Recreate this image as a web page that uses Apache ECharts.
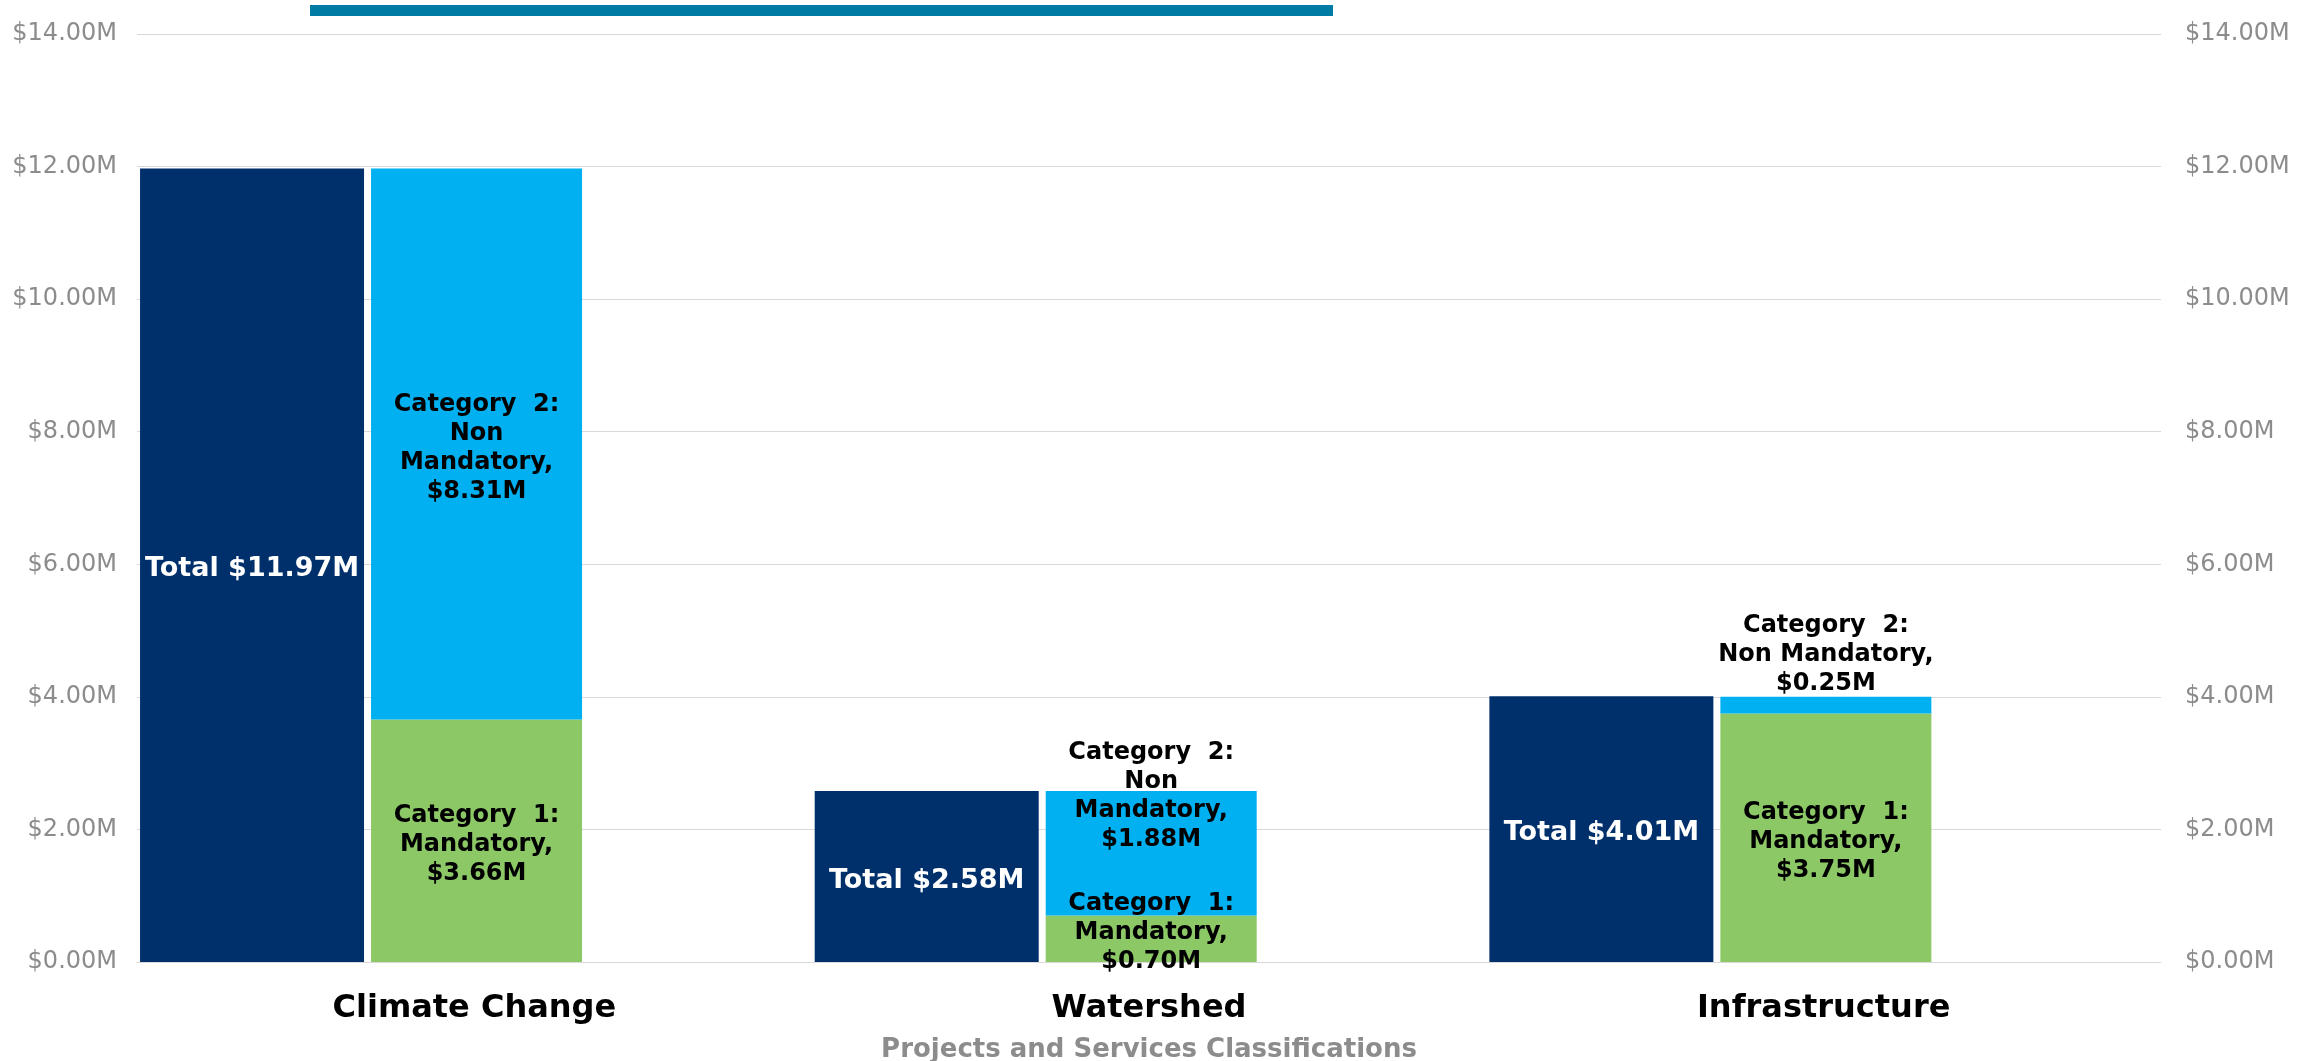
<!DOCTYPE html>
<html>
<head>
<meta charset="utf-8">
<script src="https://cdn.jsdelivr.net/npm/echarts@6/dist/echarts.min.js"></script>
<style>
  html, body { margin: 0; padding: 0; background: #ffffff; }
  #chart { width: 2318px; height: 1061px; }
</style>
</head>
<body>
<div id="chart"></div>
<script>
// ---- data (values in $ millions) ----
const categories = ['Climate Change', 'Watershed', 'Infrastructure'];
const totalValues = [11.97, 2.58, 4.01];
const mandatoryValues = [3.66, 0.70, 3.75];
const nonMandatoryValues = [8.31, 1.88, 0.25];
const nonMandatoryLabelLines = [
  ['Category  2:', 'Non', 'Mandatory,'],
  ['Category  2:', 'Non', 'Mandatory,'],
  ['Category  2:', 'Non Mandatory,']
];
const mandatoryLabelLines = ['Category  1:', 'Mandatory,'];
const yMin = 0, yMax = 14, yInterval = 2;
const xAxisTitle = 'Projects and Services Classifications';

const money = v => '$' + v.toFixed(2) + 'M';

const FONT = '"DejaVu Sans", Verdana, sans-serif';
const C_TOTAL = '#00306B';
const C_MAND = '#8DC866';
const C_NONMAND = '#00B0F0';

const labelBase = {
  show: true,
  fontFamily: FONT,
  fontWeight: 'bold',
  fontSize: 24,
  lineHeight: 29,
  color: '#000000',
  align: 'center'
};

const totalData = totalValues.map(v => ({
  value: v,
  label: Object.assign({}, labelBase, {
    position: 'inside', offset: [0, 4], color: '#ffffff', fontSize: 27,
    formatter: 'Total ' + money(v)
  })
}));

const mandatoryOffsets = [[0, 4], [0, -6], [0, 4]];
const mandatoryData = mandatoryValues.map((v, i) => ({
  value: v,
  label: Object.assign({}, labelBase, {
    position: 'inside', offset: mandatoryOffsets[i],
    formatter: mandatoryLabelLines.concat([money(v)]).join('\n')
  })
}));

const nonMandatoryPlacement = [
  { position: 'inside', offset: [0, 4] },
  { position: 'inside', offset: [0, -57] },
  { position: 'top', distance: -1 }
];
const nonMandatoryData = nonMandatoryValues.map((v, i) => ({
  value: v,
  label: Object.assign({}, labelBase, nonMandatoryPlacement[i], {
    formatter: nonMandatoryLabelLines[i].concat([money(v)]).join('\n')
  })
}));

const chart = echarts.init(document.getElementById('chart'), null, { renderer: 'canvas' });

const yAxisCommon = {
  type: 'value',
  min: yMin, max: yMax, interval: yInterval,
  axisLine: { show: false },
  axisTick: { show: false },
  axisLabel: {
    formatter: v => money(v),
    color: '#8C8C8C',
    fontFamily: FONT,
    fontSize: 24
  }
};

chart.setOption({
  animation: false,
  backgroundColor: '#ffffff',
  grid: { left: 137, right: 157, top: 34, bottom: 99, containLabel: false, outerBoundsMode: 'none' },
  graphic: [{
    type: 'rect',
    left: 310, top: 5,
    shape: { width: 1023, height: 11 },
    style: { fill: '#007BA3' },
    silent: true
  }],
  xAxis: {
    type: 'category',
    data: categories,
    axisLine: { show: true, lineStyle: { color: '#D9D9D9', width: 1 } },
    axisTick: { show: false },
    axisLabel: {
      color: '#000000', fontFamily: FONT, fontWeight: 'bold', fontSize: 32,
      margin: 31
    },
    name: xAxisTitle,
    nameLocation: 'middle',
    nameGap: 75,
    nameTextStyle: { color: '#8C8C8C', fontFamily: FONT, fontWeight: 'bold', fontSize: 26 }
  },
  yAxis: [
    Object.assign({}, yAxisCommon, {
      position: 'left',
      splitLine: { show: true, lineStyle: { color: '#D9D9D9', width: 1 } },
      axisLabel: Object.assign({}, yAxisCommon.axisLabel, { margin: 20 })
    }),
    Object.assign({}, yAxisCommon, {
      position: 'right',
      splitLine: { show: false },
      axisLabel: Object.assign({}, yAxisCommon.axisLabel, { margin: 24 })
    })
  ],
  series: [
    {
      name: 'Total', type: 'bar', stack: 'total',
      barWidth: 224, barGap: '3.125%',
      itemStyle: { color: C_TOTAL },
      data: totalData
    },
    {
      name: 'Category 1: Mandatory', type: 'bar', stack: 'cat',
      barWidth: 211, barGap: '3.125%',
      itemStyle: { color: C_MAND },
      data: mandatoryData
    },
    {
      name: 'Category 2: Non Mandatory', type: 'bar', stack: 'cat',
      barWidth: 211, barGap: '3.125%',
      itemStyle: { color: C_NONMAND },
      data: nonMandatoryData
    },
    {
      name: 'placeholder', type: 'bar', stack: 'spare',
      barWidth: 220, barGap: '3.125%',
      itemStyle: { color: 'transparent' },
      data: categories.map(() => null)
    }
  ]
});
</script>
</body>
</html>
